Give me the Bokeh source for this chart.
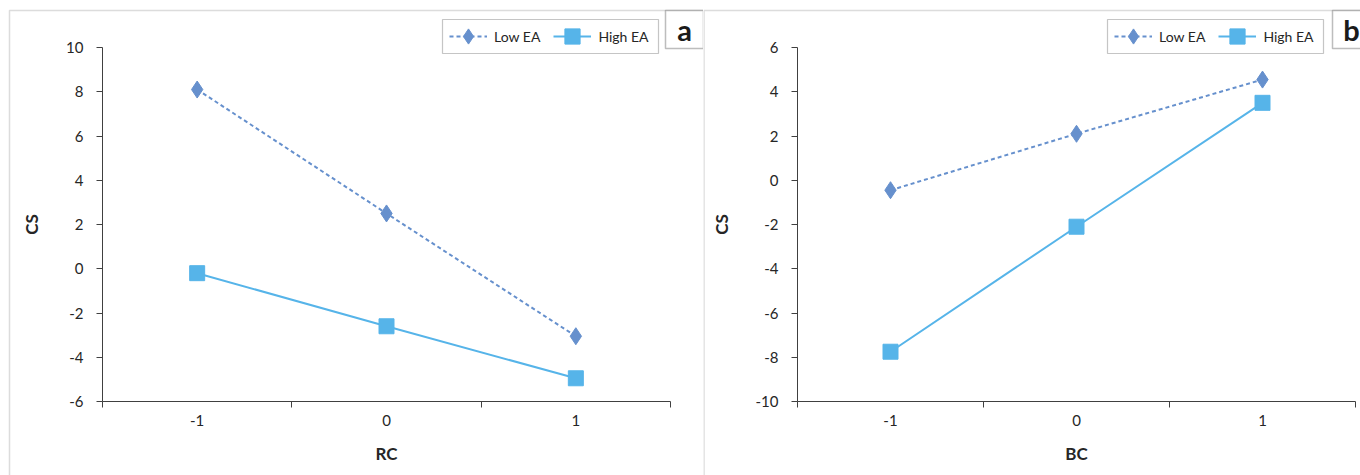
from bokeh.plotting import figure
from bokeh.layouts import row
from bokeh.models import (FixedTicker, Legend, LegendItem, BoxAnnotation, Label, Range1d, LinearAxis)
from bokeh.embed import file_html
from bokeh.resources import INLINE

# ---- data ----
x_levels = [-1, 0, 1]
x_tick_labels = ["-1", "0", "1"]
series_names = ["Low EA", "High EA"]

a_low = [8.1, 2.5, -3.05]
a_high = [-0.2, -2.6, -4.95]
a_yticks = [-6, -4, -2, 0, 2, 4, 6, 8, 10]

b_low = [-0.45, 2.1, 4.55]
b_high = [-7.75, -2.1, 3.5]
b_yticks = [-10, -8, -6, -4, -2, 0, 2, 4, 6]

LOW_COLOR = "#6690CD"
HIGH_COLOR = "#56B4E9"
AXIS_COLOR = "#404040"
TEXT_COLOR = "#262626"
FONT = "Lato"
H = 475


def make_panel(letter, xlabel, low, high, yticks, width, plot_left, plot_right, plot_top, plot_bottom,
               legend_left, box_left, border_left):
    xmin, xmax = -1.5, 1.5
    ymin, ymax = min(yticks), max(yticks)
    xs = (xmax - xmin) / (plot_right - plot_left)
    ys = (ymax - ymin) / (plot_bottom - plot_top)
    xr = Range1d(xmin - plot_left * xs, xmax + (width - plot_right) * xs)
    yr = Range1d(ymin - (H - plot_bottom) * ys, ymax + plot_top * ys)

    p = figure(width=width, height=H, output_backend="svg", toolbar_location=None,
               x_range=xr, y_range=yr, x_axis_location=None, y_axis_location=None,
               min_border=0)
    p.xgrid.visible = False
    p.ygrid.visible = False
    p.outline_line_color = None
    p.background_fill_color = "white"
    p.border_fill_color = "white"

    # y axis
    ya = LinearAxis(fixed_location=xmin, bounds=(ymin, ymax))
    ya.ticker = FixedTicker(ticks=yticks)
    ya.major_label_overrides = {v: str(v) for v in yticks}
    ya.axis_line_color = AXIS_COLOR
    ya.major_tick_line_color = AXIS_COLOR
    ya.major_tick_out = 6
    ya.major_tick_in = 0
    ya.minor_tick_line_color = None
    ya.major_label_standoff = 13
    ya.major_label_text_font = FONT
    ya.major_label_text_font_size = "15px"
    ya.major_label_text_color = TEXT_COLOR
    ya.axis_label = "CS"
    ya.axis_label_text_font = FONT
    ya.axis_label_text_font_style = "bold"
    ya.axis_label_text_font_size = "17px"
    ya.axis_label_text_color = TEXT_COLOR
    ya.axis_label_standoff = 21
    p.add_layout(ya, "left")

    # x axis (category-like, ticks between categories)
    xa = LinearAxis(fixed_location=ymin, bounds=(xmin, xmax))
    xa.ticker = FixedTicker(ticks=x_levels, minor_ticks=[-1.5, -0.5, 0.5, 1.5])
    xa.major_label_overrides = {v: s for v, s in zip(x_levels, x_tick_labels)}
    xa.axis_line_color = AXIS_COLOR
    xa.major_tick_out = 0
    xa.major_tick_in = 0
    xa.major_tick_line_color = None
    xa.minor_tick_line_color = AXIS_COLOR
    xa.minor_tick_out = 6
    xa.minor_tick_in = 0
    xa.major_label_standoff = 7
    xa.major_label_text_font = FONT
    xa.major_label_text_font_size = "15px"
    xa.major_label_text_color = TEXT_COLOR
    xa.axis_label = xlabel
    xa.axis_label_text_font = FONT
    xa.axis_label_text_font_style = "bold"
    xa.axis_label_text_font_size = "17px"
    xa.axis_label_text_color = TEXT_COLOR
    xa.axis_label_standoff = 14
    p.add_layout(xa, "below")

    # series
    l1 = p.line(x_levels, low, line_color=LOW_COLOR, line_width=2, line_dash="4 3")
    m1 = p.scatter(x_levels, low, marker="diamond", size=17,
                   fill_color=LOW_COLOR, line_color=LOW_COLOR)
    l2 = p.line(x_levels, high, line_color=HIGH_COLOR, line_width=2)
    m2 = p.scatter(x_levels, high, marker="square", size=15, fill_color=HIGH_COLOR, line_color=HIGH_COLOR)

    # legend frame
    p.add_layout(BoxAnnotation(left=legend_left, right=legend_left + 216, top=19, bottom=53,
                               left_units="canvas", right_units="canvas",
                               top_units="canvas", bottom_units="canvas",
                               fill_color="white", fill_alpha=1, line_color=AXIS_COLOR, line_width=1.2))

    legend = Legend(items=[LegendItem(label=series_names[0], renderers=[l1, m1]),
                           LegendItem(label=series_names[1], renderers=[l2, m2])],
                    orientation="horizontal", location=(legend_left + 7, H - 55),
                    border_line_color=None, background_fill_alpha=0,
                    padding=0, margin=0, spacing=13, glyph_width=38, glyph_height=38,
                    label_standoff=7, label_text_font=FONT, label_text_font_size="14px",
                    label_text_color=TEXT_COLOR, label_height=38)
    p.add_layout(legend, "center")

    # panel border
    p.add_layout(BoxAnnotation(left=border_left, right=width + 40, top=10, bottom=H + 20,
                               left_units="canvas", right_units="canvas",
                               top_units="canvas", bottom_units="canvas",
                               fill_color=None, line_color="#8c8c8c", line_width=1.5))
    # letter box
    p.add_layout(BoxAnnotation(left=box_left, right=box_left + 38, top=10, bottom=48,
                               left_units="canvas", right_units="canvas",
                               top_units="canvas", bottom_units="canvas",
                               fill_color="white", fill_alpha=1, line_color="#262626", line_width=1.5))
    p.add_layout(Label(x=box_left + 19, y=H - 29, x_units="screen", y_units="screen",
                       text=letter, text_font=FONT, text_font_style="bold", text_font_size="29px",
                       text_color="#1a1a1a", text_align="center", text_baseline="middle"))
    return p


pa = make_panel("a", "RC", a_low, a_high, a_yticks, 703, 102, 670, 47, 401, 442, 665, 9)
pb = make_panel("b", "BC", b_low, b_high, b_yticks, 657, 94, 652, 47, 401, 404, 629, 0.5)

layout = row(pa, pb)
open("out.html", "w").write(file_html(layout, INLINE))
